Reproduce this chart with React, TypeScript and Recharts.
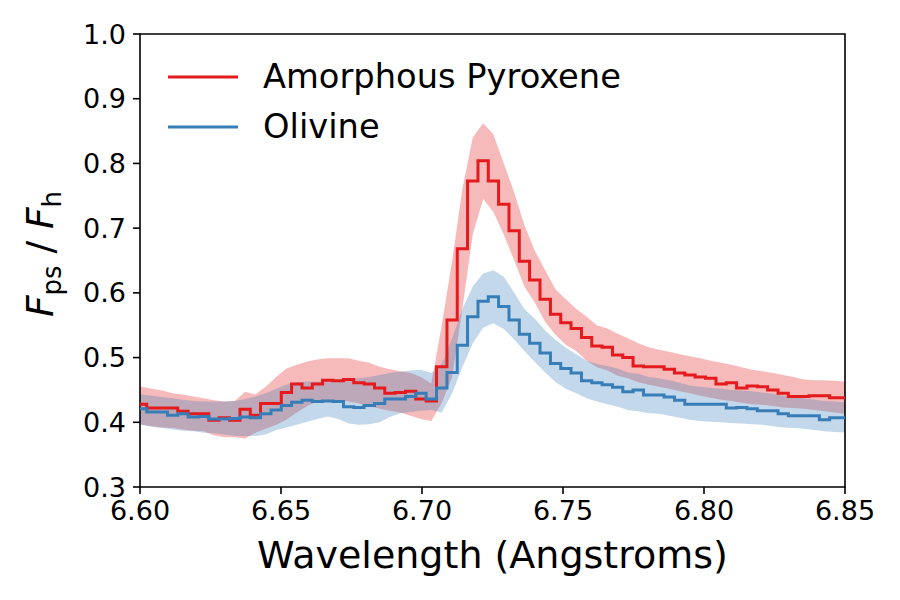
import React from "react";
import { ComposedChart, Line, Area, XAxis, YAxis, Legend, ReferenceArea } from "recharts";

// bin centres (Angstroms)
const WAVELENGTH = [
  6.5969, 6.6006, 6.6042, 6.6079, 6.6116, 6.6152, 6.6189, 6.6226, 6.6262, 6.6299,
  6.6336, 6.6373, 6.6409, 6.6446, 6.6483, 6.6519, 6.6556, 6.6593, 6.6629, 6.6666,
  6.6703, 6.674, 6.6776, 6.6813, 6.685, 6.6886, 6.6923, 6.696, 6.6996, 6.7033,
  6.707, 6.7107, 6.7143, 6.718, 6.7217, 6.7253, 6.729, 6.7327, 6.7363, 6.74,
  6.7437, 6.7474, 6.751, 6.7547, 6.7584, 6.762, 6.7657, 6.7694, 6.773, 6.7767,
  6.7804, 6.784, 6.7877, 6.7914, 6.795, 6.7987, 6.8024, 6.8061, 6.8097, 6.8134,
  6.8171, 6.8207, 6.8244, 6.8281, 6.8317, 6.8354, 6.8391, 6.8427, 6.8464, 6.8501,
];

const PYROXENE = [
  0.428, 0.428, 0.422, 0.422, 0.422, 0.417, 0.413, 0.413, 0.403, 0.407,
  0.403, 0.42, 0.411, 0.429, 0.429, 0.446, 0.459, 0.453, 0.459, 0.465,
  0.464, 0.466, 0.461, 0.459, 0.453, 0.445, 0.446, 0.448, 0.436, 0.433,
  0.486, 0.558, 0.668, 0.773, 0.804, 0.773, 0.737, 0.696, 0.649, 0.62,
  0.59, 0.567, 0.554, 0.545, 0.531, 0.518, 0.516, 0.504, 0.5, 0.487,
  0.486, 0.486, 0.482, 0.476, 0.473, 0.47, 0.468, 0.459, 0.461, 0.453,
  0.456, 0.455, 0.45, 0.445, 0.44, 0.44, 0.441, 0.441, 0.438, 0.438,
];
const PYROXENE_LO = [
  0.398, 0.396, 0.394, 0.392, 0.391, 0.389, 0.387, 0.386, 0.38, 0.377,
  0.377, 0.375, 0.384, 0.39, 0.396, 0.404, 0.415, 0.425, 0.432, 0.434,
  0.434, 0.432, 0.429, 0.425, 0.421, 0.418, 0.415, 0.41, 0.405, 0.402,
  0.43, 0.47, 0.575, 0.69, 0.745, 0.725, 0.69, 0.65, 0.61, 0.585,
  0.555, 0.535, 0.52, 0.51, 0.495, 0.485, 0.48, 0.472, 0.468, 0.462,
  0.458, 0.455, 0.452, 0.448, 0.445, 0.441, 0.438, 0.435, 0.433, 0.43,
  0.428, 0.427, 0.425, 0.423, 0.422, 0.421, 0.419, 0.417, 0.415, 0.413,
];
const PYROXENE_HI = [
  0.457, 0.455, 0.452, 0.449, 0.445, 0.443, 0.44, 0.437, 0.434, 0.432,
  0.433, 0.447, 0.443, 0.455, 0.47, 0.483, 0.489, 0.494, 0.497, 0.499,
  0.499, 0.499, 0.495, 0.492, 0.486, 0.482, 0.479, 0.476, 0.47, 0.46,
  0.55, 0.65, 0.76, 0.84, 0.862, 0.845, 0.8, 0.755, 0.705, 0.665,
  0.635, 0.605, 0.59, 0.575, 0.563, 0.55, 0.545, 0.537, 0.53, 0.522,
  0.516, 0.512, 0.509, 0.505, 0.502, 0.499, 0.495, 0.492, 0.489, 0.485,
  0.481, 0.479, 0.476, 0.473, 0.47, 0.466, 0.465, 0.465, 0.464, 0.463,
];

const OLIVINE = [
  0.421, 0.421, 0.416, 0.416, 0.411, 0.413, 0.408, 0.409, 0.405, 0.405,
  0.406, 0.408, 0.407, 0.413, 0.419, 0.426, 0.431, 0.434, 0.432, 0.433,
  0.432, 0.424, 0.423, 0.426, 0.429, 0.436, 0.436, 0.44, 0.445, 0.436,
  0.453, 0.477, 0.519, 0.563, 0.587, 0.594, 0.579, 0.558, 0.536, 0.522,
  0.507, 0.491, 0.483, 0.476, 0.464, 0.461, 0.458, 0.454, 0.447, 0.45,
  0.442, 0.442, 0.439, 0.434, 0.428, 0.428, 0.428, 0.428, 0.422, 0.423,
  0.421, 0.418, 0.418, 0.413, 0.41, 0.41, 0.41, 0.404, 0.407, 0.407,
];
const OLIVINE_LO = [
  0.398, 0.396, 0.393, 0.391, 0.389, 0.387, 0.386, 0.384, 0.383, 0.381,
  0.379, 0.379, 0.379, 0.381, 0.388, 0.392, 0.396, 0.401, 0.405, 0.409,
  0.405, 0.398, 0.396, 0.397, 0.4, 0.408, 0.414, 0.416, 0.418, 0.419,
  0.415, 0.445, 0.485, 0.522, 0.546, 0.553, 0.544, 0.528, 0.51, 0.493,
  0.477, 0.462, 0.452, 0.445, 0.437, 0.432, 0.428, 0.424, 0.419, 0.417,
  0.414, 0.413, 0.41, 0.407, 0.404, 0.402, 0.401, 0.4, 0.399, 0.398,
  0.397, 0.396, 0.394, 0.392, 0.391, 0.39, 0.388, 0.386, 0.385, 0.384,
];
const OLIVINE_HI = [
  0.445, 0.443, 0.441, 0.439, 0.437, 0.435, 0.433, 0.432, 0.432, 0.432,
  0.433, 0.436, 0.44, 0.445, 0.452, 0.458, 0.462, 0.463, 0.463, 0.463,
  0.464, 0.466, 0.468, 0.47, 0.473, 0.476, 0.478, 0.48, 0.481, 0.476,
  0.49, 0.53, 0.575, 0.61, 0.63, 0.635, 0.625, 0.6, 0.575, 0.56,
  0.542, 0.527, 0.515, 0.505, 0.495, 0.49, 0.487, 0.483, 0.477, 0.475,
  0.47, 0.468, 0.465, 0.461, 0.457, 0.455, 0.453, 0.452, 0.45, 0.449,
  0.448, 0.446, 0.444, 0.441, 0.439, 0.437, 0.435, 0.433, 0.432, 0.431,
];

const X_TICKS = [6.6, 6.65, 6.7, 6.75, 6.8, 6.85];
const Y_TICKS = [0.3, 0.4, 0.5, 0.6, 0.7, 0.8, 0.9, 1.0];

const RED = "#e41a1c";
const BLUE = "#377eb8";
const FONT = "DejaVu Sans";

const data = WAVELENGTH.map((w, i) => ({
  w,
  pyx: PYROXENE[i],
  pyxBand: [PYROXENE_LO[i], PYROXENE_HI[i]],
  oli: OLIVINE[i],
  oliBand: [OLIVINE_LO[i], OLIVINE_HI[i]],
}));

const LEGEND_ITEMS = [
  { name: "Amorphous Pyroxene", color: RED },
  { name: "Olivine", color: BLUE },
];

function LegendBox() {
  return (
    <svg width={480} height={110}>
      {LEGEND_ITEMS.map((it, i) => (
        <g key={it.name}>
          <line x1={18} x2={88} y1={32 + i * 50} y2={32 + i * 50} stroke={it.color} strokeWidth={3} />
          <text x={113} y={43 + i * 50} fontSize={33.7} fontFamily={FONT} fill="#000">
            {it.name}
          </text>
        </g>
      ))}
    </svg>
  );
}

function YLabel() {
  return (
    <text
      transform="translate(53,254) rotate(-90)"
      textAnchor="middle"
      fontSize={37.5}
      fontFamily={FONT}
      fill="#000"
      style={{ whiteSpace: "pre" }}
    >
      <tspan fontStyle="italic">F</tspan>
      <tspan fontSize={26} dy={8}>ps</tspan>
      <tspan dy={-8}>{" / "}</tspan>
      <tspan fontStyle="italic">F</tspan>
      <tspan fontSize={26} dy={8}>h</tspan>
    </text>
  );
}

function XLabel(props: any) {
  const vb = props.viewBox || { x: 140, y: 487, width: 705 };
  return (
    <text x={vb.x + vb.width / 2} y={vb.y + 81} textAnchor="middle" fontSize={38} fontFamily={FONT} fill="#000">
      Wavelength (Angstroms)
    </text>
  );
}

export default function App() {
  const tickStyle = { fontSize: 27, fill: "#000", fontFamily: FONT };
  return (
    <div style={{ position: "absolute", left: 0, top: 0, width: 900, height: 600, background: "#fff" }}>
      <ComposedChart width={900} height={600} data={data} margin={{ top: 34, right: 55, left: 0, bottom: 0 }}>
        <XAxis
          dataKey="w"
          type="number"
          domain={[6.6, 6.85]}
          allowDataOverflow
          ticks={X_TICKS}
          tickFormatter={(v: number) => v.toFixed(2)}
          tick={tickStyle}
          tickSize={7}
          tickMargin={7}
          tickLine={{ stroke: "#000", strokeWidth: 1.6 }}
          axisLine={false}
          height={113}
          label={<XLabel />}
        />
        <YAxis
          type="number"
          domain={[0.3, 1.0]}
          allowDataOverflow
          ticks={Y_TICKS}
          tickFormatter={(v: number) => v.toFixed(1)}
          tick={tickStyle}
          tickSize={7}
          tickMargin={7}
          tickLine={{ stroke: "#000", strokeWidth: 1.6 }}
          axisLine={false}
          width={140}
          label={<YLabel />}
        />
        <Area
          dataKey="pyxBand"
          type="linear"
          stroke="none"
          fill={RED}
          fillOpacity={0.3}
          isAnimationActive={false}
          activeDot={false}
        />
        <Area
          dataKey="oliBand"
          type="linear"
          stroke="none"
          fill={BLUE}
          fillOpacity={0.3}
          isAnimationActive={false}
          activeDot={false}
        />
        <Line dataKey="pyx" type="step" stroke={RED} strokeWidth={3} dot={false} activeDot={false} isAnimationActive={false} />
        <Line dataKey="oli" type="step" stroke={BLUE} strokeWidth={3} dot={false} activeDot={false} isAnimationActive={false} />
        <ReferenceArea x1={6.6} x2={6.85} y1={0.3} y2={1.0} fill="none" stroke="#000" strokeWidth={1.6} fillOpacity={0} />
        <Legend
          layout="horizontal"
          verticalAlign="middle"
          align="center"
          content={() => <LegendBox />}
          wrapperStyle={{ position: "absolute", left: 150, top: 45, width: 480, height: 110 }}
        />
      </ComposedChart>
    </div>
  );
}
